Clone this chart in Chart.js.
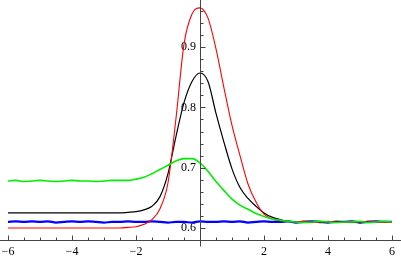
<!DOCTYPE html>
<html>
<head>
<meta charset="utf-8">
<script src="https://cdn.jsdelivr.net/npm/chart.js@4.4.1/dist/chart.umd.min.js"></script>
<style>
  html, body { margin: 0; padding: 0; background: #fff; }
  #wrap { width: 401px; height: 258px; position: relative; }
</style>
</head>
<body>
<div id="wrap"><canvas id="plot"></canvas></div>
<script>
/* Four response curves on a common x grid (step 0.25, -6 .. 6) */

const xs = [
  -6, -5.75, -5.5, -5.25, -5, -4.75, -4.5, -4.25, -4, -3.75, -3.5, -3.25,
  -3, -2.75, -2.5, -2.25, -2, -1.75, -1.5, -1.25, -1, -0.75, -0.5, -0.25,
  0, 0.25, 0.5, 0.75, 1, 1.25, 1.5, 1.75, 2, 2.25, 2.5, 2.75,
  3, 3.25, 3.5, 3.75, 4, 4.25, 4.5, 4.75, 5, 5.25, 5.5, 5.75, 6
];

const redVals = [
  0.600, 0.600, 0.600, 0.600, 0.600, 0.600, 0.600, 0.600, 0.600, 0.600, 0.600, 0.600,
  0.600, 0.600, 0.600, 0.601, 0.602, 0.606, 0.614, 0.632, 0.675, 0.782, 0.905, 0.955,
  0.965, 0.948, 0.897, 0.832, 0.770, 0.720, 0.673, 0.643, 0.623, 0.615, 0.612, 0.611,
  0.610, 0.611, 0.609, 0.610, 0.611, 0.610, 0.609, 0.611, 0.610, 0.610, 0.611, 0.609, 0.610
];

const blackVals = [
  0.625, 0.625, 0.625, 0.625, 0.625, 0.625, 0.625, 0.625, 0.625, 0.625, 0.625, 0.625,
  0.625, 0.625, 0.625, 0.626, 0.627, 0.630, 0.636, 0.652, 0.690, 0.752, 0.808, 0.843,
  0.857, 0.843, 0.790, 0.742, 0.698, 0.667, 0.649, 0.636, 0.625, 0.618, 0.614, 0.611,
  0.610, 0.611, 0.610, 0.609, 0.610, 0.611, 0.610, 0.610, 0.609, 0.611, 0.610, 0.610, 0.610
];

const greenVals = [
  0.678, 0.679, 0.677, 0.678, 0.679, 0.678, 0.677, 0.678, 0.679, 0.678, 0.678, 0.677,
  0.678, 0.679, 0.679, 0.679, 0.681, 0.684, 0.690, 0.697, 0.704, 0.711, 0.715, 0.715,
  0.708, 0.694, 0.677, 0.662, 0.648, 0.638, 0.631, 0.624, 0.619, 0.615, 0.613, 0.611,
  0.610, 0.609, 0.610, 0.611, 0.610, 0.609, 0.610, 0.610, 0.611, 0.609, 0.610, 0.611, 0.610
];

const blueVals = [
  0.610, 0.611, 0.610, 0.611, 0.610, 0.611, 0.609, 0.610, 0.611, 0.610, 0.611, 0.610,
  0.609, 0.610, 0.610, 0.611, 0.610, 0.610, 0.611, 0.610, 0.609, 0.610, 0.610, 0.609,
  0.611, 0.610, 0.610, 0.611, 0.610, 0.611, 0.609, 0.610, 0.611, 0.610, 0.610, 0.611,
  0.609, 0.610, 0.611, 0.610, 0.609, 0.610, 0.610, 0.611, 0.609, 0.610, 0.611, 0.610, 0.610
];

const xTickVals = [-6, -4, -2, 2, 4, 6];
const yTickVals = [0.6, 0.7, 0.8, 0.9];

const X_MIN = -6, X_MAX = 6;
const Y_MIN = 0.58, Y_MAX = 0.978;

const AXIS = '#444';
const SERIF = '"Liberation Serif", "DejaVu Serif", serif';

const pts = (vals) => xs.map((x, i) => ({ x, y: vals[i] }));

function series(label, vals, color, width) {
  return {
    label,
    data: pts(vals),
    borderColor: color,
    backgroundColor: color,
    borderWidth: width,
    pointRadius: 0,
    fill: false,
    cubicInterpolationMode: 'monotone',
  };
}

/* Mathematica-style axes: lines through the frame, inward ticks with minors */
const axisTicks = {
  id: 'axisTicks',
  afterDatasetsDraw(chart) {
    const { ctx, scales: { x, y } } = chart;
    const x0 = Math.round(x.getPixelForValue(0)) + 0.5;
    const yb = Math.round(y.getPixelForValue(Y_MIN)) + 0.5;
    ctx.save();
    ctx.strokeStyle = AXIS;
    ctx.lineWidth = 1;
    ctx.beginPath();
    // axis lines
    ctx.moveTo(0, yb); ctx.lineTo(chart.width, yb);
    ctx.moveTo(x0, 0); ctx.lineTo(x0, yb + 6);
    // x ticks every 0.5, majors on the even numbers
    for (let k = 0; k <= (X_MAX - X_MIN) / 0.5; k++) {
      const v = X_MIN + k * 0.5;
      const px = Math.round(x.getPixelForValue(v)) + 0.5;
      const len = v % 2 === 0 ? 5 : 3;
      ctx.moveTo(px, yb); ctx.lineTo(px, yb - len);
    }
    // y ticks every 0.02, majors on the tenths
    for (let k = 0; ; k++) {
      const v = +(Y_MIN + k * 0.02).toFixed(2);
      if (v > Y_MAX) break;
      const py = Math.round(y.getPixelForValue(v)) + 0.5;
      const len = Math.abs(v * 10 - Math.round(v * 10)) < 1e-6 ? 5 : 3;
      ctx.moveTo(x0, py); ctx.lineTo(x0 + len, py);
    }
    ctx.stroke();
    ctx.restore();
  }
};

new Chart(document.getElementById('plot'), {
  type: 'line',
  data: {
    datasets: [
      series('green', greenVals, '#00ee00', 1.6),
      series('red',   redVals,   '#ff0000', 1.1),
      series('black', blackVals, '#000000', 1.2),
      series('blue',  blueVals,  '#0000ff', 2.2),
    ],
  },
  options: {
    responsive: true,
    maintainAspectRatio: false,
    animation: false,
    layout: { padding: { left: 8, right: 9, top: 0, bottom: 1.3 } },
    plugins: { legend: { display: false }, tooltip: { enabled: false } },
    scales: {
      x: {
        type: 'linear',
        min: X_MIN,
        max: X_MAX,
        afterBuildTicks: (s) => { s.ticks = xTickVals.map((v) => ({ value: v })); },
        ticks: {
          // blank first line pushes the numbers down without a wide padding
          font: { family: SERIF, size: 12, lineHeight: 0.611 },
          color: '#000',
          padding: 1,
          autoSkip: false,
          maxRotation: 0,
          callback: (v) => ['', v < 0 ? '\u2212' + Math.abs(v) : String(v)],
        },
        grid: { display: false, drawTicks: false, tickLength: 0 },
        border: { display: false },
      },
      y: {
        type: 'linear',
        // labels sit just left of the x = 0 axis line
        position: { x: -0.125 },
        min: Y_MIN,
        max: Y_MAX,
        afterBuildTicks: (s) => { s.ticks = yTickVals.map((v) => ({ value: v })); },
        ticks: {
          // tiny line height keeps Chart.js from padding the top of the plot
          font: { family: SERIF, size: 12, lineHeight: 0.01 },
          color: '#000',
          padding: 0,
          callback: (v) => v.toFixed(1),
        },
        grid: { display: false, drawTicks: false, tickLength: 0 },
        border: { display: false },
      },
    },
  },
  plugins: [axisTicks],
});
</script>
</body>
</html>
